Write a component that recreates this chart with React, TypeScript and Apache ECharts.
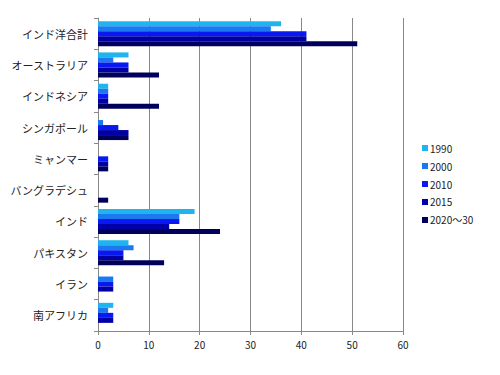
import React, { useEffect, useRef } from "react";
import * as echarts from "echarts";

const categories = [
  "インド洋合計",
  "オーストラリア",
  "インドネシア",
  "シンガポール",
  "ミャンマー",
  "バングラデシュ",
  "インド",
  "パキスタン",
  "イラン",
  "南アフリカ",
];

const seriesNames = ["1990", "2000", "2010", "2015", "2020～30"];

const v1990 = [36, 6, 2, 0, 0, 0, 19, 6, 0, 3];
const v2000 = [34, 3, 2, 1, 0, 0, 16, 7, 3, 2];
const v2010 = [41, 6, 2, 4, 2, 0, 16, 5, 3, 3];
const v2015 = [41, 6, 2, 6, 2, 0, 14, 5, 3, 3];
const v2020 = [51, 12, 12, 6, 2, 2, 24, 13, 0, 0];

const xTicks = { min: 0, max: 60, interval: 10 };

const colors = ["#1fb4f0", "#1a78f0", "#0818f0", "#0000a6", "#00005c"];

export default function App() {
  const ref = useRef<HTMLDivElement>(null);
  useEffect(() => {
    if (!ref.current) return;
    const chart = echarts.init(ref.current, undefined, { renderer: "svg" });
    const values = [v1990, v2000, v2010, v2015, v2020];
    chart.setOption({
      animation: false,
      backgroundColor: "#ffffff",
      textStyle: { fontFamily: "Noto Sans CJK JP" },
      grid: { left: 98, top: 18, width: 305, height: 313, containLabel: false },
      legend: {
        orient: "vertical",
        left: 417,
        top: 138,
        itemWidth: 6,
        itemHeight: 6,
        itemGap: 8,
        icon: "rect",
        textStyle: { fontSize: 10, color: "#222", fontFamily: "Noto Sans CJK JP", padding: [0, 0, 0, -3] },
        data: seriesNames,
      },
      xAxis: {
        type: "value",
        min: xTicks.min,
        max: xTicks.max,
        interval: xTicks.interval,
        axisLine: { show: true, lineStyle: { color: "#888888", width: 1 } },
        axisTick: { show: true, length: 4, lineStyle: { color: "#888888" } },
        axisLabel: { fontSize: 10, color: "#222", margin: 8 },
        splitLine: { show: true, lineStyle: { color: "#888888", width: 1 } },
      },
      yAxis: {
        type: "category",
        inverse: true,
        data: categories,
        axisLine: { show: true, lineStyle: { color: "#888888", width: 1 } },
        axisTick: { show: true, length: 4, lineStyle: { color: "#888888" } },
        axisLabel: { fontSize: 11, color: "#222", margin: 10 },
      },
      series: seriesNames.map((name, i) => ({
        name,
        type: "bar",
        data: values[i],
        barGap: "0%",
        barCategoryGap: "20%",
        itemStyle: { color: colors[i] },
      })),
    });
    return () => chart.dispose();
  }, []);
  return <div ref={ref} style={{ width: 500, height: 375, margin: -8 }} />;
}
